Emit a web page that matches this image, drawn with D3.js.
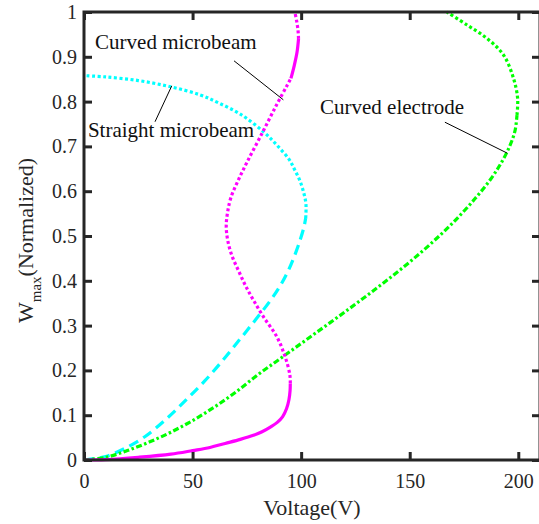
<!DOCTYPE html>
<html>
<head>
<meta charset="utf-8">
<style>
  body { margin: 0; background: #fff; }
  svg { display: block; }
  text { font-family: "Liberation Serif", "Times New Roman", Times, serif; }
</style>
</head>
<body>
<svg width="539" height="524"></svg>
<script src="https://cdn.jsdelivr.net/npm/d3@7"></script>
<script>
// ---- data (voltage V, normalized W_max) ----
var xTicks = [0, 50, 100, 150, 200];
var yTicks = [0, 0.1, 0.2, 0.3, 0.4, 0.5, 0.6, 0.7, 0.8, 0.9, 1];

// curved microbeam (magenta)
var curvedBeamStable1 = [[0,0],[10,0.001],[25,0.006],[40,0.013],[50,0.021],[58,0.028],[65,0.037],[72,0.046],[78,0.055],[82,0.063],[86,0.074],[89,0.084],[91.5,0.097],[93.3,0.115],[94.4,0.135],[94.9,0.155],[95,0.171]];
var curvedBeamUnstable1 = [[95,0.171],[94.8,0.19],[92.6,0.231],[88.8,0.275],[82.6,0.32],[78,0.357],[74.5,0.388],[71.4,0.42],[68.2,0.455],[66.2,0.49],[65.5,0.522],[66.1,0.552],[67.6,0.585],[70.8,0.622],[75.2,0.666],[82.4,0.733],[88.6,0.792],[93.4,0.835],[95.3,0.852]];
var curvedBeamStable2 = [[95.3,0.852],[96.8,0.88],[98.1,0.91],[98.8,0.94]];
var curvedBeamUnstable2 = [[98.8,0.94],[98.6,0.957],[98,0.978],[97.1,1.0]];

// straight microbeam (cyan)
var straightStable = [[0,0],[10,0.008],[18,0.024],[28,0.052],[38,0.092],[47,0.134],[55.5,0.176],[64,0.223],[71.9,0.27],[79,0.313],[85.7,0.355],[90.5,0.39],[94.2,0.424],[97.3,0.46],[99.6,0.492],[101.3,0.52],[102.1,0.54]];
var straightUnstable = [[102.1,0.54],[102.2,0.572],[101,0.6],[99.3,0.625],[97,0.648],[94.6,0.67],[88.8,0.703],[82.6,0.733],[72,0.772],[62,0.797],[53.5,0.815],[40,0.833],[25,0.847],[10,0.855],[0,0.858]];

// curved electrode (green)
var electrodeStable = [[0,0],[10,0.006],[20,0.021],[30,0.04],[40,0.062],[50,0.088],[60,0.118],[70,0.152],[80,0.19],[90,0.225],[100,0.26],[110,0.295],[120,0.33],[130,0.366],[140,0.403],[150,0.442],[160,0.484],[170,0.53],[180,0.583],[187,0.625],[192,0.662],[196,0.7],[198.5,0.735],[199.4,0.77]];
var electrodeUnstable = [[199.4,0.77],[199.7,0.807],[197.8,0.852],[193.2,0.904],[185.6,0.941],[176.4,0.971],[167.1,1.0]];

// annotations: label, text anchor point, leader line from/to (data coords)
var annLabels = ["Curved microbeam", "Straight microbeam", "Curved electrode"];
var annText = [[5.1, 0.917], [1.8, 0.72], [108.7, 0.772]];
var annFrom = [[69.1, 0.891], [32.7, 0.755], [166.2, 0.754]];
var annTo = [[91.8, 0.804], [40.4, 0.835], [194.9, 0.685]];

// ---- chart ----
var svg = d3.select("svg"),
    margin = {top: 12, right: -1, bottom: 64, left: 84},
    width = +svg.attr("width") - margin.left - margin.right,
    height = +svg.attr("height") - margin.top - margin.bottom,
    g = svg.append("g").attr("transform", "translate(" + margin.left + "," + margin.top + ")");

var x = d3.scaleLinear().domain([0, 210]).range([0, width]);
var y = d3.scaleLinear().domain([0, 1]).range([height, 0]);
var axisColor = "#262626";
var serif = "'Liberation Serif', 'Times New Roman', Times, serif";

var line = d3.line()
    .x(function(d) { return x(d[0]); })
    .y(function(d) { return y(d[1]); })
    .curve(d3.curveCatmullRom.alpha(0.5));

var dotted = "3,2.5", dashed = "10,6", dashDot = "6,2.5,2.5,2.5";
var series = [
  {data: straightStable, color: "#00ffff", dash: dashed},
  {data: straightUnstable, color: "#00ffff", dash: dotted},
  {data: electrodeStable, color: "#00ff00", dash: dashDot},
  {data: electrodeUnstable, color: "#00ff00", dash: dotted},
  {data: curvedBeamStable1, color: "#ff00ff", dash: null},
  {data: curvedBeamUnstable1, color: "#ff00ff", dash: dotted},
  {data: curvedBeamStable2, color: "#ff00ff", dash: null},
  {data: curvedBeamUnstable2, color: "#ff00ff", dash: dotted}
];

g.selectAll(".curve").data(series).enter().append("path")
    .attr("class", "curve")
    .attr("fill", "none")
    .attr("stroke", function(d) { return d.color; })
    .attr("stroke-width", 3.2)
    .attr("stroke-dasharray", function(d) { return d.dash; })
    .attr("d", function(d) { return line(d.data); });

// box frame
g.append("rect")
    .attr("width", width).attr("height", height)
    .attr("fill", "none").attr("stroke", axisColor).attr("stroke-width", 3);

// inward ticks via d3 axes on all four sides; labels on bottom and left only
var fmt = function(d) { return String(+d.toFixed(1)); };
var xb = g.append("g").attr("transform", "translate(0," + height + ")")
    .call(d3.axisBottom(x).tickValues(xTicks).tickSize(-8).tickSizeOuter(0).tickPadding(14));
var yl = g.append("g")
    .call(d3.axisLeft(y).tickValues(yTicks).tickFormat(fmt).tickSize(-8).tickSizeOuter(0).tickPadding(7));
var xt = g.append("g")
    .call(d3.axisTop(x).tickValues(xTicks).tickSize(-8).tickSizeOuter(0).tickFormat(""));
var yr = g.append("g").attr("transform", "translate(" + width + ",0)")
    .call(d3.axisRight(y).tickValues(yTicks).tickSize(-8).tickSizeOuter(0).tickFormat(""));

[xb, yl, xt, yr].forEach(function(a) {
  a.attr("font-family", serif);
  a.select(".domain").remove();
  a.selectAll(".tick line").attr("stroke", axisColor).attr("stroke-width", 3);
  a.selectAll(".tick text").attr("fill", axisColor).attr("font-size", 20);
});

// axis labels
g.append("text")
    .attr("x", x(105)).attr("y", height + 55)
    .attr("text-anchor", "middle").attr("fill", axisColor)
    .attr("font-family", serif).attr("font-size", 22)
    .text("Voltage(V)");

var yLab = svg.append("text")
    .attr("transform", "translate(33," + (margin.top + y(0.49)) + ") rotate(-90)")
    .attr("text-anchor", "middle").attr("fill", axisColor)
    .attr("font-family", serif).attr("font-size", 22);
yLab.append("tspan").text("W");
yLab.append("tspan").attr("dy", 8).attr("font-size", 15).text("max");
yLab.append("tspan").attr("dy", -8).text("(Normalized)");

// annotations
annLabels.forEach(function(lab, i) {
  g.append("line")
      .attr("x1", x(annFrom[i][0])).attr("y1", y(annFrom[i][1]))
      .attr("x2", x(annTo[i][0])).attr("y2", y(annTo[i][1]))
      .attr("stroke", "#000").attr("stroke-width", 1);
  g.append("text")
      .attr("x", x(annText[i][0])).attr("y", y(annText[i][1]))
      .attr("fill", "#111").attr("font-family", serif).attr("font-size", 21)
      .text(lab);
});
</script>
</body>
</html>
